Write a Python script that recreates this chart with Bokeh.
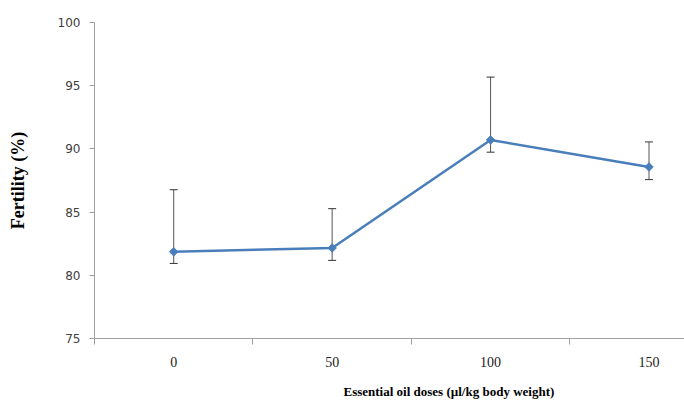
import math
from bokeh.plotting import figure
from bokeh.models import (ColumnDataSource, FixedTicker, Whisker, TeeHead, Title,
                          Range1d, LinearAxis)
from bokeh.embed import file_html
from bokeh.resources import INLINE

# ---- data ----
doses = ["0", "50", "100", "150"]
fertility = [81.86, 82.16, 90.71, 88.57]
err_upper = [86.77, 85.27, 95.68, 90.55]
err_lower = [80.94, 81.18, 89.74, 87.57]
y_ticks = [75, 80, 85, 90, 95, 100]

xs = list(range(len(doses)))
src = ColumnDataSource(dict(x=xs, y=fertility, upper=err_upper, lower=err_lower))

p = figure(width=684, height=401, output_backend="svg", toolbar_location=None,
           x_range=Range1d(-0.5, 3.224), y_range=Range1d(75, 100),
           min_border_left=94, min_border_right=0, min_border_top=22,
           min_border_bottom=63)
p.outline_line_color = None
p.xgrid.visible = False
p.ygrid.visible = False
p.background_fill_color = "white"
p.border_fill_color = "white"

axis_col = "#a0a0a0"

# y axis
ya = p.yaxis[0]
ya.ticker = FixedTicker(ticks=y_ticks, minor_ticks=[])
ya.axis_line_color = axis_col
ya.major_tick_line_color = axis_col
ya.major_tick_in = 0
ya.major_tick_out = 5
ya.minor_tick_line_color = None
ya.major_label_text_font = "DejaVu Sans"
ya.major_label_text_font_size = "12px"
ya.major_label_text_color = "#404040"
ya.major_label_standoff = 9
ya.axis_label = "Fertility (%)"
ya.axis_label_text_font = "Liberation Serif"
ya.axis_label_text_font_style = "bold"
ya.axis_label_text_font_size = "18px"
ya.axis_label_text_color = "#000000"
ya.axis_label_standoff = 27

# x axis
xa = p.xaxis[0]
xa.ticker = FixedTicker(ticks=xs, minor_ticks=[i - 0.5 for i in range(len(doses) + 1)])
xa.major_label_overrides = {i: d for i, d in enumerate(doses)}
xa.axis_line_color = axis_col
xa.major_tick_line_color = None
xa.major_tick_in = 0
xa.major_tick_out = 0
xa.minor_tick_line_color = axis_col
xa.minor_tick_in = 0
xa.minor_tick_out = 6
xa.major_label_text_font = "Liberation Serif"
xa.major_label_text_font_size = "14px"
xa.major_label_text_color = "#222222"
xa.major_label_standoff = 12

# spacer axis (white tick on white, no label) that pushes the x title further down
spacer = LinearAxis(ticker=FixedTicker(ticks=[-0.5], minor_ticks=[]),
                    axis_line_color=None, major_tick_line_color="white",
                    minor_tick_line_color=None, major_tick_in=0, major_tick_out=11,
                    minor_tick_in=0, minor_tick_out=0,
                    major_label_overrides={-0.5: ""}, major_label_text_alpha=0,
                    major_label_standoff=0, axis_label_standoff=0)
p.add_layout(spacer, "below")

# error bars
wh = Whisker(source=src, base="x", upper="upper", lower="lower", dimension="height",
             line_color="#555555", line_width=1, level="underlay",
             upper_head=TeeHead(size=8, line_color="#333333", line_width=1),
             lower_head=TeeHead(size=8, line_color="#333333", line_width=1))
p.add_layout(wh)

# line + markers
p.line("x", "y", source=src, line_color="#4a7ebb", line_width=2.5)
p.scatter("x", "y", source=src, marker="square", size=6, angle=math.pi / 4,
          fill_color="#4a7ebb", line_color="#4a7ebb")

# x axis title (placed below the axis, shifted right like the reference)
p.add_layout(Title(text="Essential oil doses (µl/kg body weight)", align="left",
                   offset=249, standoff=2,
                   text_font="Liberation Serif", text_font_style="bold",
                   text_font_size="13px", text_color="#000000"), "below")

open("out.html", "w").write(file_html(p, INLINE))
